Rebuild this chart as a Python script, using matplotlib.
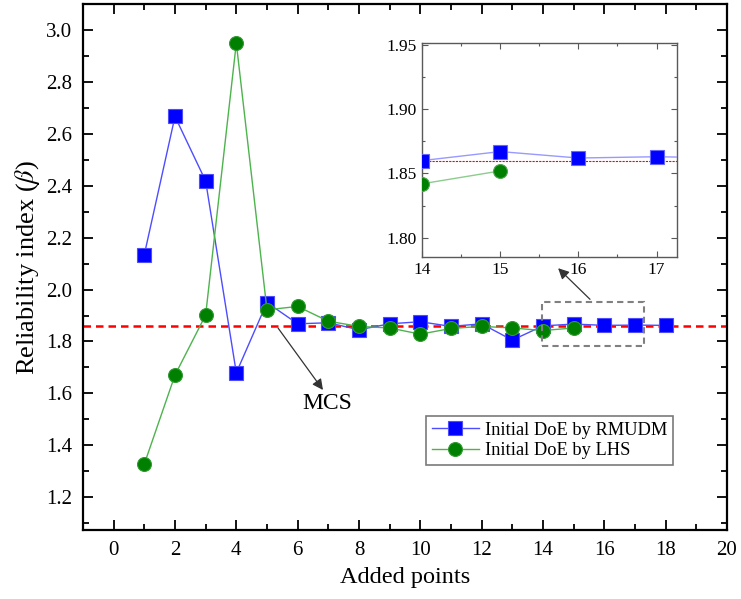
import matplotlib
matplotlib.use("Agg")
import matplotlib.pyplot as plt
from matplotlib.ticker import MultipleLocator, FormatStrFormatter
from matplotlib.patches import Rectangle

plt.rcParams['font.family'] = ['Liberation Serif', 'DejaVu Serif']
plt.rcParams['mathtext.fontset'] = 'stix'

x_rmudm = [1, 2, 3, 4, 5, 6, 7, 8, 9, 10, 11, 12, 13, 14, 15, 16, 17, 18]
y_rmudm = [2.135, 2.668, 2.419, 1.679, 1.950, 1.868, 1.872, 1.845, 1.868, 1.876,
           1.858, 1.868, 1.805, 1.860, 1.867, 1.862, 1.863, 1.862]
x_lhs = [1, 2, 3, 4, 5, 6, 7, 8, 9, 10, 11, 12, 13, 14, 15]
y_lhs = [1.327, 1.670, 1.902, 2.951, 1.922, 1.935, 1.878, 1.858, 1.852, 1.828,
         1.850, 1.858, 1.852, 1.842, 1.852]
mcs_value = 1.86
label_rmudm = "Initial DoE by RMUDM"
label_lhs = "Initial DoE by LHS"

fig = plt.figure(figsize=(7.41, 5.99), dpi=100)
ax = fig.add_axes([0.112, 0.115, 0.869, 0.8775])

blue_line = (0.3, 0.3, 1.0)
green_line = (0.3, 0.7, 0.3)
ax.plot(x_rmudm, y_rmudm, color=blue_line, lw=1.0, marker='s', ms=10,
        mfc='blue', mec=(0.3, 0.3, 1.0), mew=0.8, label=label_rmudm, zorder=3)
ax.plot(x_lhs, y_lhs, color=green_line, lw=1.0, marker='o', ms=10,
        mfc='green', mec=(0.2, 0.6, 0.2), mew=0.8, label=label_lhs, zorder=3)
ax.axhline(mcs_value, color='red', ls=(0, (3, 2)), lw=1.8, zorder=2)

ax.set_xlim(-1, 20)
ax.set_ylim(1.072, 3.1)
ax.xaxis.set_major_locator(MultipleLocator(2))
ax.xaxis.set_minor_locator(MultipleLocator(1))
ax.yaxis.set_major_locator(MultipleLocator(0.2))
ax.yaxis.set_minor_locator(MultipleLocator(0.1))
ax.yaxis.set_major_formatter(FormatStrFormatter('%.1f'))
ax.tick_params(which='both', direction='in', top=True, right=True, labelsize=15, width=1.3)
ax.tick_params(which='major', length=7, pad=8)
ax.tick_params(which='minor', length=4)
for s in ax.spines.values():
    s.set_linewidth(1.6)
ax.set_xlabel("Added points", fontsize=17.5, labelpad=5)
ax.set_ylabel(r"Reliability index ($\beta$)", fontsize=19, labelpad=3)

leg = ax.legend(loc='lower right', bbox_to_anchor=(0.930, 0.107), fontsize=13.2,
                frameon=True, fancybox=False, edgecolor='0.35', handlelength=2.6,
                borderpad=0.3, labelspacing=0.2, handletextpad=0.3)
leg.get_frame().set_linewidth(1.2)

ax.annotate("", xy=(6.88, 1.604), xytext=(5.31, mcs_value),
            arrowprops=dict(arrowstyle='-|>', color='0.2', lw=0.9, mutation_scale=16))
ax.text(6.98, 1.562, "MCS", fontsize=17, ha='center', va='center')

# dashed zoom rectangle
ax.add_patch(Rectangle((13.97, 1.782), 17.30 - 13.97, 1.951 - 1.782, fill=False,
                       ls=(0, (3, 2)), lw=1.5, ec='0.5', zorder=4))
ax.annotate("", xy=(14.43, 2.09), xytext=(15.6, 1.955),
            arrowprops=dict(arrowstyle='-|>', color='0.2', lw=0.9, mutation_scale=16))

# inset
ins = fig.add_axes([0.5695, 0.5715, 0.344, 0.3563])
ins.plot(x_rmudm, y_rmudm, color=(0.6, 0.6, 1.0), lw=1.0, marker='s', ms=10,
         mfc='blue', mec=(0.4, 0.4, 1.0), mew=0.8, zorder=3)
ins.plot(x_lhs, y_lhs, color=(0.55, 0.8, 0.55), lw=1.0, marker='o', ms=10,
         mfc='green', mec=(0.3, 0.65, 0.3), mew=0.8, zorder=3)
ins.axhline(mcs_value, color='red', ls=(0, (2, 1)), lw=0.8, zorder=2)
ins.set_xlim(14, 17.26)
ins.set_ylim(1.7855, 1.951)
ins.xaxis.set_major_locator(MultipleLocator(1))
ins.xaxis.set_minor_locator(MultipleLocator(0.5))
ins.yaxis.set_major_locator(MultipleLocator(0.05))
ins.yaxis.set_minor_locator(MultipleLocator(0.025))
ins.yaxis.set_major_formatter(FormatStrFormatter('%.2f'))
ins.xaxis.set_major_formatter(FormatStrFormatter('%d'))
ins.tick_params(which='both', direction='in', top=True, right=True, labelsize=12.5,
                width=0.8, colors='0.35', labelcolor='black')
ins.tick_params(which='major', length=4)
ins.tick_params(which='minor', length=2.5)
for s in ins.spines.values():
    s.set_linewidth(1.0)
    s.set_color('0.35')

fig.savefig("out.png", dpi=100)
